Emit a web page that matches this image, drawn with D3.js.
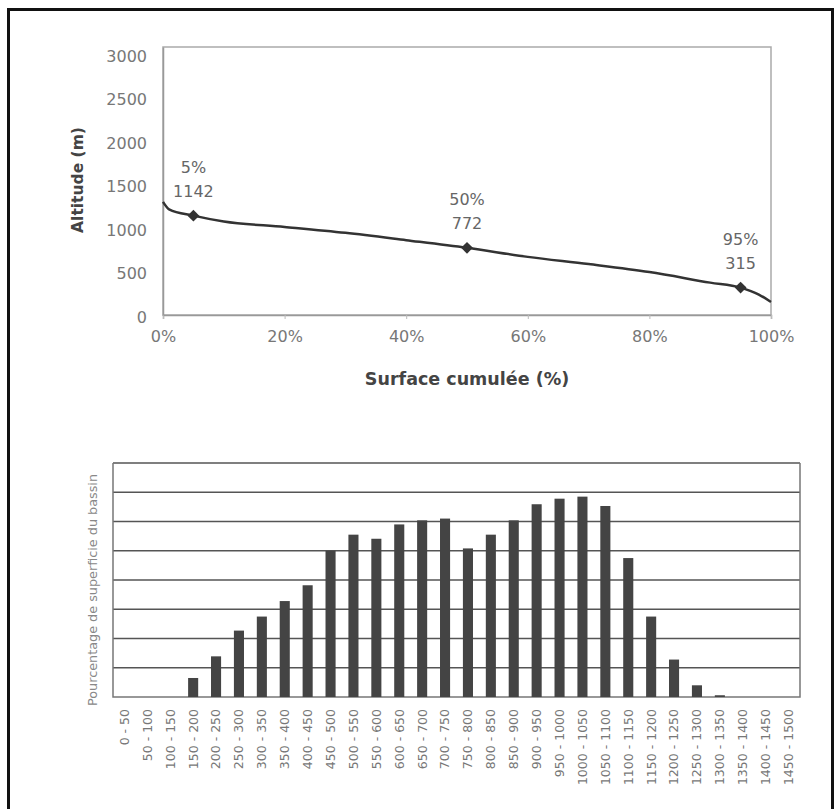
<!DOCTYPE html>
<html>
<head>
<meta charset="utf-8">
<script src="https://cdn.jsdelivr.net/npm/d3@7"></script>
<style>
    body { margin: 0; background: #fff; }
    svg { display: block; font-family: 'DejaVu Sans', sans-serif; }
</style>
</head>
<body>
<svg id="fig"></svg>
<script>
// courbe hypsométrique
const surfacePct = [0, 1, 5, 10, 20, 30, 40, 50, 60, 70, 80, 90, 95, 98, 100];
const altitude = [1300, 1215, 1142, 1075, 1012, 944, 860, 772, 668, 585, 493, 372, 315, 235, 150];
const markerPct = [5, 50, 95];
const markerAlt = [1142, 772, 315];
const altTicks = [0, 500, 1000, 1500, 2000, 2500, 3000];
const pctTicks = [0, 20, 40, 60, 80, 100];

// histogramme des tranches d'altitude
const classes = ['0 - 50', '50 - 100', '100 - 150', '150 - 200', '200 - 250', '250 - 300',
    '300 - 350', '350 - 400', '400 - 450', '450 - 500', '500 - 550', '550 - 600',
    '600 - 650', '650 - 700', '700 - 750', '750 - 800', '800 - 850', '850 - 900',
    '900 - 950', '950 - 1000', '1000 - 1050', '1050 - 1100', '1100 - 1150', '1150 - 1200',
    '1200 - 1250', '1250 - 1300', '1300 - 1350', '1350 - 1400', '1400 - 1450', '1450 - 1500'];
const areaShare = [0, 0, 0, 0.65, 1.39, 2.27, 2.75, 3.28, 3.82, 5.0, 5.55, 5.41,
    5.9, 6.04, 6.1, 5.08, 5.55, 6.04, 6.59, 6.78, 6.85, 6.53, 4.75, 2.75,
    1.28, 0.4, 0.06, 0, 0, 0];
const shareTicks = [1, 2, 3, 4, 5, 6, 7, 8];

const svg = d3.select('#fig').attr('width', 834).attr('height', 809);

// cadre
svg.append('path')
    .attr('d', 'M8.5,809 V9.5 H832.5 V809')
    .attr('fill', 'none')
    .attr('stroke', '#111')
    .attr('stroke-width', 3);

// ---------- graphique du haut ----------
const box1 = {left: 163, right: 771, top: 47, bottom: 315};
const xs = d3.scaleLinear().domain([0, 100]).range([box1.left, box1.right]);
const ys = d3.scaleLinear().domain([0, 3080]).range([box1.bottom, box1.top]);

const g1 = svg.append('g');

g1.append('rect')
    .attr('x', box1.left).attr('y', box1.top)
    .attr('width', box1.right - box1.left).attr('height', box1.bottom - box1.top)
    .attr('fill', 'none').attr('stroke', '#aaa').attr('stroke-width', 1.5);

const xaxis = d3.axisBottom(xs).tickValues(pctTicks).tickSize(4).tickFormat(d => d + '%');
g1.append('g')
    .attr('transform', `translate(0, ${box1.bottom})`)
    .call(xaxis)
    .call(g => g.select('.domain').attr('stroke', '#999').attr('stroke-width', 1.5))
    .call(g => g.selectAll('line').attr('stroke', '#bbb'))
    .call(g => g.selectAll('text')
        .attr('font-family', 'DejaVu Sans').attr('font-size', 16).attr('fill', '#777')
        .attr('y', 16));

const yaxis = d3.axisLeft(ys).tickValues(altTicks).tickSize(0).tickFormat(d3.format('d'));
g1.append('g')
    .attr('transform', `translate(${box1.left}, 0)`)
    .call(yaxis)
    .call(g => g.select('.domain').attr('stroke', '#999').attr('stroke-width', 1.5))
    .call(g => g.selectAll('text')
        .attr('font-family', 'DejaVu Sans').attr('font-size', 16).attr('fill', '#777')
        .attr('x', -16).attr('dy', '0.45em'));

g1.append('path')
    .datum(surfacePct.map((p, i) => [p, altitude[i]]))
    .attr('fill', 'none')
    .attr('stroke', '#333')
    .attr('stroke-width', 2.5)
    .attr('d', d3.line().x(d => xs(d[0])).y(d => ys(d[1])).curve(d3.curveMonotoneX));

const marks = markerPct.map((p, i) => ({p: p, a: markerAlt[i]}));
g1.selectAll('.mk')
    .data(marks)
    .enter()
    .append('path')
    .attr('class', 'mk')
    .attr('transform', d => `translate(${xs(d.p)}, ${ys(d.a)}) rotate(45)`)
    .attr('d', d3.symbol(d3.symbolSquare, 70))
    .attr('fill', '#333');

const lab = g1.selectAll('.lab')
    .data(marks)
    .enter()
    .append('text')
    .attr('class', 'lab')
    .attr('text-anchor', 'middle')
    .attr('font-size', 16)
    .attr('fill', '#666');
lab.append('tspan')
    .attr('x', d => xs(d.p))
    .attr('y', d => ys(d.a) - 43)
    .text(d => d.p + '%');
lab.append('tspan')
    .attr('x', d => xs(d.p))
    .attr('y', d => ys(d.a) - 19)
    .text(d => d.a);

g1.append('text')
    .attr('x', (box1.left + box1.right) / 2)
    .attr('y', 385)
    .attr('text-anchor', 'middle')
    .attr('font-size', 17.5)
    .attr('font-weight', 'bold')
    .attr('fill', '#444')
    .text('Surface cumulée (%)');

g1.append('text')
    .attr('transform', 'rotate(-90)')
    .attr('x', -180)
    .attr('y', 83)
    .attr('text-anchor', 'middle')
    .attr('font-size', 15.5)
    .attr('font-weight', 'bold')
    .attr('fill', '#444')
    .text('Altitude (m)');

// ---------- histogramme ----------
const box2 = {left: 113, right: 800, top: 463, bottom: 697};
const xb = d3.scaleBand().domain(classes).range([box2.left, box2.right])
    .paddingInner(0.56).paddingOuter(0.28);
const yb = d3.scaleLinear().domain([0, 8]).range([box2.bottom, box2.top]);

const g2 = svg.append('g');

g2.selectAll('.grid')
    .data(shareTicks)
    .enter()
    .append('line')
    .attr('class', 'grid')
    .attr('x1', box2.left).attr('x2', box2.right)
    .attr('y1', d => yb(d)).attr('y2', d => yb(d))
    .attr('stroke', '#555').attr('stroke-width', 1.6);

g2.append('path')
    .attr('d', `M${box2.left},${box2.top} V${box2.bottom} H${box2.right} V${box2.top}`)
    .attr('fill', 'none').attr('stroke', '#777').attr('stroke-width', 1.5);

g2.selectAll('rect')
    .data(areaShare)
    .enter()
    .append('rect')
    .attr('x', (d, i) => xb(classes[i]))
    .attr('y', d => yb(d))
    .attr('width', xb.bandwidth())
    .attr('height', d => yb(0) - yb(d))
    .attr('fill', '#444');

const xbaxis = d3.axisBottom(xb).tickSize(0);
g2.append('g')
    .attr('transform', `translate(0, ${box2.bottom})`)
    .call(xbaxis)
    .call(g => g.select('.domain').remove())
    .call(g => g.selectAll('text')
        .attr('font-family', 'DejaVu Sans').attr('font-size', 12.5).attr('fill', '#777')
        .attr('text-anchor', 'end')
        .attr('transform', 'rotate(-90)')
        .attr('x', -12).attr('y', 0).attr('dy', '0.35em'));

g2.append('text')
    .attr('transform', 'rotate(-90)')
    .attr('x', -590)
    .attr('y', 97)
    .attr('text-anchor', 'middle')
    .attr('font-size', 12.8)
    .attr('fill', '#888')
    .text('Pourcentage de superficie du bassin');
</script>
</body>
</html>
